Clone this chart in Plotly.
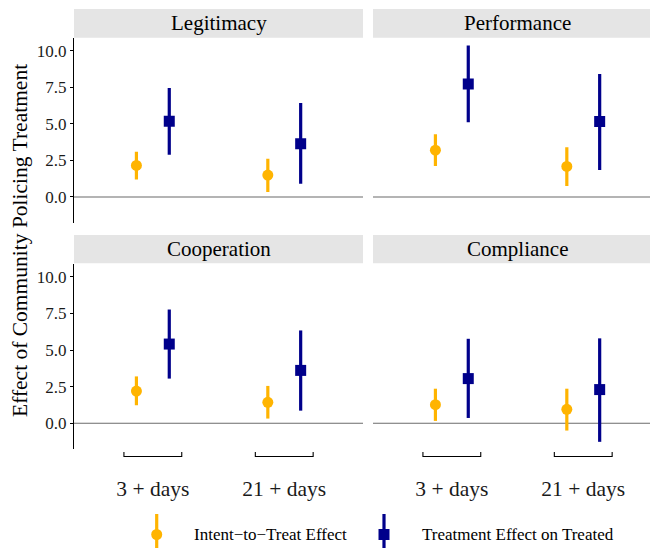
import plotly.graph_objects as go

# ---- data ----
panels = ["Legitimacy", "Performance", "Cooperation", "Compliance"]
categories = ["3 + days", "21 + days"]
series_names = ["Intent\u2212to\u2212Treat Effect", "Treatment Effect on Treated"]

itt_est = {"Legitimacy": [2.16, 1.50], "Performance": [3.20, 2.09],
           "Cooperation": [2.20, 1.43], "Compliance": [1.27, 0.95]}
itt_lo = {"Legitimacy": [1.19, 0.34], "Performance": [2.12, 0.75],
          "Cooperation": [1.23, 0.32], "Compliance": [0.16, -0.50]}
itt_hi = {"Legitimacy": [3.09, 2.62], "Performance": [4.30, 3.41],
          "Cooperation": [3.20, 2.55], "Compliance": [2.36, 2.36]}

tot_est = {"Legitimacy": [5.18, 3.64], "Performance": [7.73, 5.16],
           "Cooperation": [5.41, 3.61], "Compliance": [3.05, 2.30]}
tot_lo = {"Legitimacy": [2.89, 0.91], "Performance": [5.11, 1.84],
          "Cooperation": [3.05, 0.86], "Compliance": [0.36, -1.27]}
tot_hi = {"Legitimacy": [7.46, 6.43], "Performance": [10.37, 8.41],
          "Cooperation": [7.77, 6.34], "Compliance": [5.77, 5.80]}

y_ticks = [0.0, 2.5, 5.0, 7.5, 10.0]
y_ticktext = ["0.0", "2.5", "5.0", "7.5", "10.0"]

# ---- style ----
OFF = 8  # page body margin of the browser
W, H = 658 - OFF, 548 - OFF
FONT = "Liberation Serif"
C_ITT = "#FFB400"
C_TOT = "#00008B"
DODGE = 0.125
YR = [-1.76, 10.88]

def px(x):
    return (x - OFF) / W

def py(y):
    return 1 - (y - OFF) / H

# panel boxes in reference pixels: (x0, x1, plot_top, plot_bottom, strip_top, strip_bottom)
boxes = {
    "Legitimacy": (74, 363, 38, 222.7, 9, 37.7),
    "Performance": (373, 658, 38, 222.7, 9, 37.7),
    "Cooperation": (74, 363, 264, 449, 235, 263.3),
    "Compliance": (373, 658, 264, 449, 235, 263.3),
}
axis_ids = {"Legitimacy": "", "Performance": "2", "Cooperation": "3", "Compliance": "4"}

fig = go.Figure()
shapes = []
annotations = []
layout = {}

xpos = [i + 1 for i in range(len(categories))]

for p in panels:
    aid = axis_ids[p]
    x0, x1, pt, pb, st, sb = boxes[p]
    left = p in ("Legitimacy", "Cooperation")
    bottom = p in ("Cooperation", "Compliance")
    xr = [0.4, 0.4 + (x1 - x0) / 131.4]

    fig.add_trace(go.Scatter(
        x=[v - DODGE for v in xpos], y=itt_est[p], mode="markers",
        marker=dict(symbol="circle", size=11, color=C_ITT),
        error_y=dict(type="data", symmetric=False,
                     array=[h - e for h, e in zip(itt_hi[p], itt_est[p])],
                     arrayminus=[e - l for e, l in zip(itt_est[p], itt_lo[p])],
                     color=C_ITT, thickness=3.2, width=0),
        xaxis="x" + aid, yaxis="y" + aid, showlegend=False, name=series_names[0]))
    fig.add_trace(go.Scatter(
        x=[v + DODGE for v in xpos], y=tot_est[p], mode="markers",
        marker=dict(symbol="square", size=11, color=C_TOT),
        error_y=dict(type="data", symmetric=False,
                     array=[h - e for h, e in zip(tot_hi[p], tot_est[p])],
                     arrayminus=[e - l for e, l in zip(tot_est[p], tot_lo[p])],
                     color=C_TOT, thickness=3.2, width=0),
        xaxis="x" + aid, yaxis="y" + aid, showlegend=False, name=series_names[1]))

    layout["xaxis" + aid] = dict(
        domain=[px(x0), min(1, px(x1))], range=xr, anchor="y" + aid,
        showgrid=False, zeroline=False, showline=False,
        tickvals=xpos if bottom else [], ticktext=categories if bottom else [],
        showticklabels=bottom, ticks="outside" if bottom else "",
        ticklen=20, tickcolor="rgba(0,0,0,0)",
        tickfont=dict(family=FONT, size=21.5, color="#1a1a1a"))
    layout["yaxis" + aid] = dict(
        domain=[py(pb), py(pt)], range=YR, anchor="x" + aid,
        showgrid=False, zeroline=False,
        showline=left, linecolor="black", linewidth=1.1,
        tickvals=y_ticks if left else [], ticktext=y_ticktext if left else [],
        showticklabels=left, ticks="outside" if left else "", ticklen=3,
        tickcolor="black", tickwidth=1,
        tickfont=dict(family=FONT, size=17, color="#1a1a1a"))

    # zero reference line
    shapes.append(dict(type="line", xref="x" + aid + " domain", yref="y" + aid,
                       x0=0, x1=1, y0=0, y1=0, layer="below",
                       line=dict(color="#6b6b6b", width=1.1)))
    # strip
    shapes.append(dict(type="rect", xref="paper", yref="paper",
                       x0=px(x0), x1=min(1, px(x1)), y0=py(sb), y1=py(st),
                       fillcolor="#E5E5E5", line=dict(width=0), layer="below"))
    annotations.append(dict(text=p, xref="paper", yref="paper",
                            x=(px(x0) + px(x0 + 289)) / 2, y=(py(sb) + py(st)) / 2,
                            showarrow=False, xanchor="center", yanchor="middle",
                            font=dict(family=FONT, size=21, color="black")))
    # brackets below bottom panels
    if bottom:
        for c in xpos:
            shapes.append(dict(
                type="path", xref="x" + aid, yref="paper",
                path=f"M {c - 0.22},{py(452)} L {c - 0.22},{py(456.5)} "
                     f"L {c + 0.22},{py(456.5)} L {c + 0.22},{py(452)}",
                line=dict(color="black", width=1.1)))

# y-axis title
annotations.append(dict(text="Effect of Community Policing Treatment", xref="paper", yref="paper",
                        x=px(20), y=py(241), textangle=-90, showarrow=False,
                        xanchor="center", yanchor="middle",
                        font=dict(family=FONT, size=21.5, color="black")))

# custom legend (vertical line + marker)
leg = [(156.7, C_ITT, "circle", series_names[0], 192),
       (384, C_TOT, "rect", series_names[1], 420)]
for xk, col, sym, name, xt in leg:
    shapes.append(dict(type="line", xref="paper", yref="paper",
                       x0=px(xk), x1=px(xk), y0=py(514), y1=py(549),
                       line=dict(color=col, width=3.2)))
    shapes.append(dict(type=sym, xref="paper", yref="paper",
                       xsizemode="pixel", ysizemode="pixel",
                       xanchor=px(xk), yanchor=py(534.5),
                       x0=-5.5, x1=5.5, y0=-5.5, y1=5.5,
                       fillcolor=col, line=dict(width=0)))
    annotations.append(dict(text=name, xref="paper", yref="paper",
                            x=px(xt), y=py(534), showarrow=False,
                            xanchor="left", yanchor="middle",
                            font=dict(family=FONT, size=17, color="black")))

fig.update_layout(
    width=W, height=H, margin=dict(l=0, r=0, t=0, b=0),
    paper_bgcolor="white", plot_bgcolor="white",
    showlegend=False, shapes=shapes, annotations=annotations, **layout)

fig.write_html("out.html")
